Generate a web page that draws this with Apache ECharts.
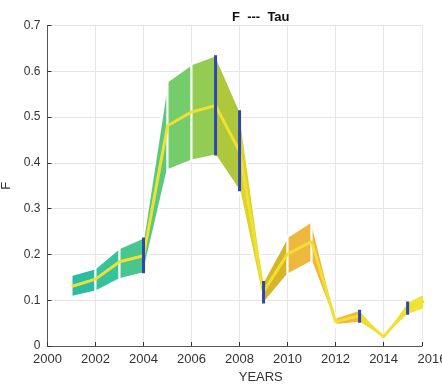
<!DOCTYPE html>
<html>
<head>
<meta charset="utf-8">
<script src="https://cdn.jsdelivr.net/npm/echarts@6/dist/echarts.min.js"></script>
<style>html,body{margin:0;padding:0;background:#fff}#c{width:442px;height:386px}</style>
</head>
<body>
<div id="c"></div>
<script>
var years  = [2001, 2002, 2003, 2004, 2005, 2006, 2007, 2008, 2009, 2010, 2011, 2012, 2013, 2014, 2015, 2016];
var median = [0.130, 0.146, 0.184, 0.197, 0.481, 0.511, 0.525, 0.425, 0.119, 0.201, 0.228, 0.053, 0.066, 0.020, 0.082, 0.104];
var upper  = [0.155, 0.170, 0.214, 0.237, 0.578, 0.615, 0.635, 0.515, 0.142, 0.238, 0.272, 0.062, 0.079, 0.022, 0.097, 0.122];
var lower  = [0.107, 0.119, 0.146, 0.159, 0.384, 0.405, 0.416, 0.338, 0.093, 0.156, 0.184, 0.046, 0.051, 0.017, 0.068, 0.086];
var segColors = ['#2cbca6', '#36c29c', '#48c68e', '#5ac97e', '#74cd6a', '#93cc52', '#afc73a', '#dcd42a',
                 '#d6b52a', '#eeb83e', '#f2b43c', '#f4b63c', '#e9dc2c', '#ebe02e', '#ede436'];
var barYears = [2004, 2007, 2008, 2009, 2013, 2015];
var barLow   = [0.159, 0.416, 0.338, 0.093, 0.051, 0.068];
var barHigh  = [0.237, 0.635, 0.515, 0.142, 0.079, 0.097];
var xTicks = [2000, 2002, 2004, 2006, 2008, 2010, 2012, 2014, 2016];

var segData = [];
for (var i = 0; i < years.length - 1; i++) segData.push([years[i], years[i + 1], i]);
var medData = years.map(function (y, i) { return [y, median[i]]; });
var barData = barYears.map(function (y, i) { return [y, barLow[i], barHigh[i]]; });

var chart = echarts.init(document.getElementById('c'));
var font = 'Liberation Sans, Arial, Helvetica, sans-serif';
chart.setOption({
  animation: false,
  title: {
    text: 'F  ---  Tau', left: 227, top: 6,
    textStyle: { fontSize: 13, fontWeight: 'bold', color: '#111', fontFamily: font }
  },
  grid: { left: 47.5, right: 20, top: 25.5, bottom: 40, containLabel: false, outerBoundsMode: 'none' },
  xAxis: {
    type: 'value', min: 2000, max: 2015.6, interval: 2,
    name: 'YEARS', nameLocation: 'middle', nameGap: 25, nameMoveOverlap: false,
    nameTextStyle: { fontSize: 13, color: '#333', fontFamily: font, padding: [0, 0, 0, 52] },
    axisLine: { show: true, lineStyle: { color: '#555', width: 1 } },
    axisTick: { show: true, inside: true, length: 4, lineStyle: { color: '#333' } },
    axisLabel: {
      fontSize: 13, color: '#333', fontFamily: font, margin: 7,
      formatter: function (v) { return xTicks.indexOf(v) >= 0 ? String(v) : ''; }
    },
    splitLine: { show: true, lineStyle: { color: '#e6e6e6', width: 1 } }
  },
  yAxis: {
    type: 'value', min: 0, max: 0.7, interval: 0.1,
    name: 'F', nameLocation: 'middle', nameGap: 35, nameRotate: 90, nameMoveOverlap: false,
    nameTextStyle: { fontSize: 13, color: '#333', fontFamily: font },
    axisLine: { show: true, lineStyle: { color: '#555', width: 1 } },
    axisTick: { show: true, inside: true, length: 4, lineStyle: { color: '#333' } },
    axisLabel: {
      fontSize: 12, color: '#333', fontFamily: font, margin: 7,
      formatter: function (v) { return v === 0 ? '0' : v.toFixed(1); }
    },
    splitLine: { show: true, lineStyle: { color: '#e6e6e6', width: 1 } }
  },
  graphic: [],
  series: [
    {
      type: 'custom', clip: true, z: 2,
      data: segData,
      renderItem: function (params, api) {
        var i = api.value(2);
        var p1 = api.coord([years[i], upper[i]]);
        var p2 = api.coord([years[i + 1], upper[i + 1]]);
        var p3 = api.coord([years[i + 1], lower[i + 1]]);
        var p4 = api.coord([years[i], lower[i]]);
        return {
          type: 'polygon',
          shape: { points: [p1, p2, p3, p4] },
          style: { fill: segColors[i], stroke: '#ffffff', lineWidth: 2, lineJoin: 'miter' }
        };
      }
    },
    {
      type: 'line', data: medData, symbol: 'none', z: 3,
      lineStyle: { color: '#f0e032', width: 3 }
    },
    {
      type: 'custom', clip: true, z: 4,
      data: barData,
      renderItem: function (params, api) {
        var a = api.coord([api.value(0), api.value(1)]);
        var b = api.coord([api.value(0), api.value(2)]);
        return {
          type: 'line',
          shape: { x1: a[0], y1: a[1], x2: b[0], y2: b[1] },
          style: { stroke: '#2f45b0', lineWidth: 3 }
        };
      }
    }
  ]
});
var p2016 = chart.convertToPixel({ gridIndex: 0 }, [2016, 0]);
chart.setOption({
  graphic: [{
    type: 'text', left: p2016[0] - 14, top: p2016[1] + 7,
    style: { text: '2016', fontSize: 13, fill: '#333', fontFamily: font }
  }]
});
</script>
</body>
</html>
